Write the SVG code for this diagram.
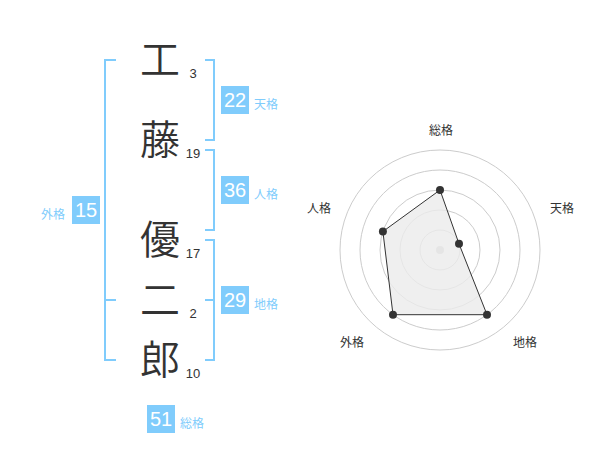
<svg xmlns="http://www.w3.org/2000/svg" width="600" height="470" viewBox="0 0 600 470">
<style>
.kanji{font-family:"Noto Sans CJK JP","Noto Sans CJK SC",sans-serif;font-size:40px;font-weight:350;fill:#333;text-anchor:middle}
.num{font-family:"Liberation Sans",Arial,sans-serif;font-size:13px;fill:#333;text-anchor:middle}
.box{fill:#80ccfc}
.boxnum{font-family:"Liberation Sans",Arial,sans-serif;font-size:20px;fill:#fff;text-anchor:middle}
.lbl{font-family:"Noto Sans CJK JP","Noto Sans CJK SC",sans-serif;font-size:12px;fill:#80ccfc}
.br{fill:none;stroke:#80ccfc;stroke-width:2}
.ring{fill:none;stroke:#ccc;stroke-width:1}
.rlbl{font-family:"Noto Sans CJK JP","Noto Sans CJK SC",sans-serif;font-size:12px;fill:#333;text-anchor:middle}
.pt{fill:#333}
</style>
<g id="connectors">
<path class="br" d="M116,60 H105 V360 H116 M105,300 H116"/>
<path class="br" d="M205,60 H214 V140 H205"/>
<path class="br" d="M205,150 H214 V230 H205"/>
<path class="br" d="M205,240 H214 V360 H205 M205,300 H214"/>
</g>
<g id="char1"><text class="kanji" x="160" y="74">工</text><text class="num" x="193" y="78">3</text></g>
<g id="char2"><text class="kanji" x="160" y="154">藤</text><text class="num" x="193" y="158">19</text></g>
<g id="char3"><text class="kanji" x="160" y="254">優</text><text class="num" x="193" y="258">17</text></g>
<g id="char4"><text class="kanji" x="160" y="314">二</text><text class="num" x="193" y="318">2</text></g>
<g id="char5"><text class="kanji" x="160" y="374">郎</text><text class="num" x="193" y="378">10</text></g>
<g id="tenkaku"><rect class="box" x="221" y="86" width="28" height="28"/><text class="boxnum" x="235" y="107.2">22</text><text class="lbl" x="254" y="108.5">天格</text></g>
<g id="jinkaku"><rect class="box" x="221" y="176" width="28" height="28"/><text class="boxnum" x="235" y="197.2">36</text><text class="lbl" x="254" y="198.5">人格</text></g>
<g id="chikaku"><rect class="box" x="221" y="286" width="28" height="28"/><text class="boxnum" x="235" y="307.2">29</text><text class="lbl" x="254" y="308.5">地格</text></g>
<g id="gaikaku"><rect class="box" x="72" y="196" width="28" height="28"/><text class="boxnum" x="86" y="217.2">15</text><text class="lbl" x="41" y="218.5">外格</text></g>
<g id="soukaku"><rect class="box" x="147" y="405" width="28" height="28"/><text class="boxnum" x="161" y="426.2">51</text><text class="lbl" x="180" y="427.5">総格</text></g>
<g id="radar">
<circle class="ring" cx="440" cy="250" r="20"/>
<circle class="ring" cx="440" cy="250" r="40"/>
<circle class="ring" cx="440" cy="250" r="60"/>
<circle class="ring" cx="440" cy="250" r="80"/>
<circle class="ring" cx="440" cy="250" r="100"/>
<circle cx="440" cy="250" r="4" fill="#ccc"/>
<polygon points="440,190 459,243.8 487,314.7 393,314.7 382.9,231.5" fill="#ebebeb" fill-opacity="0.8" stroke="#333" stroke-width="1"/>
<circle class="pt" cx="440" cy="190" r="4"/>
<circle class="pt" cx="459" cy="243.8" r="4"/>
<circle class="pt" cx="487" cy="314.7" r="4"/>
<circle class="pt" cx="393" cy="314.7" r="4"/>
<circle class="pt" cx="382.9" cy="231.5" r="4"/>
<text class="rlbl" x="441" y="135">総格</text>
<text class="rlbl" x="562" y="213">天格</text>
<text class="rlbl" x="525" y="347">地格</text>
<text class="rlbl" x="352" y="347">外格</text>
<text class="rlbl" x="319" y="213">人格</text>
</g>
</svg>
